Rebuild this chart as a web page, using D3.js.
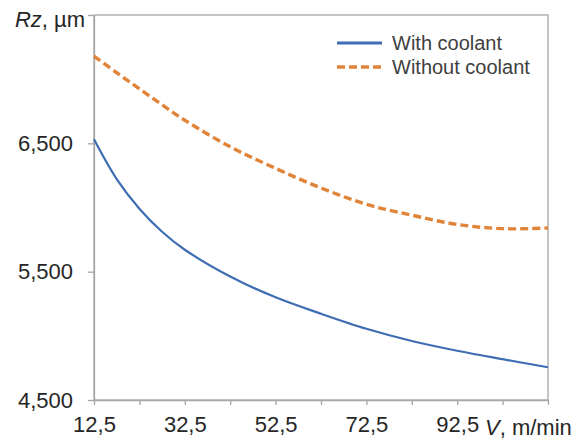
<!DOCTYPE html>
<html>
<head>
<meta charset="utf-8">
<script src="https://cdn.jsdelivr.net/npm/d3@7"></script>
<style>
  html, body { margin: 0; padding: 0; background: #fff; }
  svg { display: block; font-family: "Liberation Sans", Arial, sans-serif; }
</style>
</head>
<body>
<svg id="chart" width="579" height="441"></svg>
<script>
// Cutting speed V (m/min)
const speeds = [12.5, 17.5, 22.5, 27.5, 32.5, 42.5, 52.5, 62.5, 72.5, 82.5, 92.5, 102.5, 112.5];
// Surface roughness Rz with coolant
const withCoolant = [6531, 6221, 5991, 5811, 5671, 5462, 5300, 5172, 5055, 4960, 4884, 4818, 4755];
// Surface roughness Rz without coolant
const withoutCoolant = [7180, 7050, 6925, 6800, 6680, 6473, 6305, 6152, 6025, 5940, 5868, 5835, 5840];

const xTicks = [12.5, 22.5, 32.5, 42.5, 52.5, 62.5, 72.5, 82.5, 92.5, 102.5, 112.5];
const xTickLabels = ["12,5", "", "32,5", "", "52,5", "", "72,5", "", "92,5", "", ""];
const yTicks = [4500, 5500, 6500, 7500];
const yTickLabels = ["4,500", "5,500", "6,500", ""];

const seriesNames = ["With coolant", "Without coolant"];
const seriesColors = ["#3e6db3", "#e0843a"];

const svg = d3.select("#chart");
const plotLeft = 94, plotRight = 548, plotTop = 15, plotBottom = 400;

const x = d3.scaleLinear().domain([12.5, 112.5]).range([plotLeft, plotRight]);
const y = d3.scaleLinear().domain([4500, 7500]).range([plotBottom, plotTop]);

const frameColor = "#a6a6a6";
const textColor = "#262626";
const fontSize = 22;

// Plot frame
svg.append("rect")
  .attr("x", plotLeft).attr("y", plotTop)
  .attr("width", plotRight - plotLeft).attr("height", plotBottom - plotTop)
  .attr("fill", "none").attr("stroke", frameColor).attr("stroke-width", 1.3);

// X axis
const xAxis = svg.append("g")
  .attr("transform", `translate(0,${plotBottom})`)
  .call(d3.axisBottom(x).tickValues(xTicks).tickSize(5).tickSizeOuter(0)
    .tickFormat((d, i) => xTickLabels[i]));
xAxis.select(".domain").attr("stroke", frameColor).attr("stroke-width", 1.3);
xAxis.selectAll(".tick line").attr("stroke", frameColor).attr("stroke-width", 1.3);
xAxis.selectAll(".tick text")
  .attr("fill", textColor).attr("font-size", fontSize).attr("dy", "1.1em")
  .style("font-family", "'Liberation Sans', Arial, sans-serif");

// Y axis
const yAxis = svg.append("g")
  .attr("transform", `translate(${plotLeft},0)`)
  .call(d3.axisLeft(y).tickValues(yTicks).tickSize(6).tickSizeOuter(0)
    .tickFormat((d, i) => yTickLabels[i]));
yAxis.select(".domain").attr("stroke", frameColor).attr("stroke-width", 1.3);
yAxis.selectAll(".tick line").attr("stroke", frameColor).attr("stroke-width", 1.3);
yAxis.selectAll(".tick text")
  .attr("fill", textColor).attr("font-size", fontSize).attr("x", -21)
  .style("font-family", "'Liberation Sans', Arial, sans-serif");

// Axis titles
const yTitle = svg.append("text")
  .attr("x", 85).attr("y", 27)
  .attr("text-anchor", "end").attr("font-size", fontSize).attr("fill", textColor);
yTitle.append("tspan").attr("font-style", "italic").text("Rz");
yTitle.append("tspan").text(", µm");

const xTitle = svg.append("text")
  .attr("x", 485).attr("y", 435)
  .attr("font-size", fontSize).attr("fill", textColor);
xTitle.append("tspan").attr("font-style", "italic").text("V");
xTitle.append("tspan").text(", m/min");

// Curves
const line = d3.line()
  .x((d, i) => x(speeds[i]))
  .y(d => y(d))
  .curve(d3.curveCatmullRom.alpha(0.5));

svg.append("path")
  .datum(withCoolant)
  .attr("d", line)
  .attr("fill", "none")
  .attr("stroke", seriesColors[0])
  .attr("stroke-width", 2.2);

svg.append("path")
  .datum(withoutCoolant)
  .attr("d", line)
  .attr("fill", "none")
  .attr("stroke", seriesColors[1])
  .attr("stroke-width", 3.4)
  .attr("stroke-dasharray", "8,4");

// Legend
const legend = svg.append("g");
const legendRows = [43, 67];
seriesNames.forEach((name, i) => {
  legend.append("line")
    .attr("x1", 337).attr("x2", 382)
    .attr("y1", legendRows[i]).attr("y2", legendRows[i])
    .attr("stroke", seriesColors[i])
    .attr("stroke-width", i === 0 ? 2.8 : 3.4)
    .attr("stroke-dasharray", i === 0 ? null : "8,4");
  legend.append("text")
    .attr("x", 392).attr("y", legendRows[i])
    .attr("dy", "0.35em")
    .attr("font-size", 20)
    .attr("fill", "#404040")
    .text(name);
});
</script>
</body>
</html>
